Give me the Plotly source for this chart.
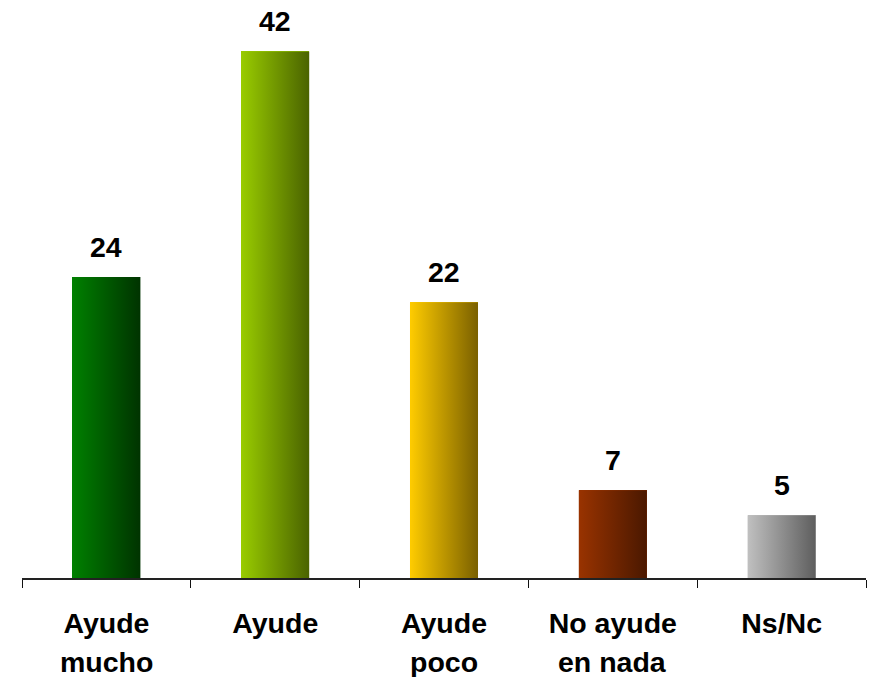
import plotly.graph_objects as go

# Survey answers and their shares (%)
label_lines = [["Ayude", "mucho"], ["Ayude"], ["Ayude", "poco"], ["No ayude", "en nada"], ["Ns/Nc"]]
values = [24, 42, 22, 7, 5]

# Horizontal gradient for each bar: left colour -> right colour
grad_left = ["#008000", "#99CC00", "#FFCC00", "#993300", "#C0C0C0"]
grad_right = ["#003300", "#4A6300", "#7A6000", "#4A1800", "#5E5E5E"]

categories = [" ".join(l) for l in label_lines]
first_lines = [l[0] for l in label_lines]
bar_w = 0.403
FONT = "Liberation Sans, Arial, sans-serif"
FSIZE = 28.5

fig = go.Figure()

# Base bars on the category axis
fig.add_trace(go.Bar(
    x=categories, y=values, width=bar_w,
    marker=dict(color=grad_left, line=dict(width=0)),
    hoverinfo="skip", showlegend=False,
))

# Gradient faces drawn over each bar on a hidden, aligned linear axis
for i, (v, c0, c1) in enumerate(zip(values, grad_left, grad_right)):
    x0, x1 = i - bar_w / 2, i + bar_w / 2
    fig.add_trace(go.Scatter(
        x=[x0, x1, x1, x0, x0], y=[0, 0, v, v, 0],
        xaxis="x2", yaxis="y", mode="lines",
        line=dict(width=0), fill="toself",
        fillgradient=dict(type="horizontal", colorscale=[[0, c0], [1, c1]]),
        hoverinfo="skip", showlegend=False,
    ))

annotations = []
# Value labels above the bars
for c, v in zip(categories, values):
    annotations.append(dict(
        x=c, y=v, xref="x", yref="y", text=str(v), showarrow=False,
        yanchor="middle", yshift=30,
        font=dict(family=FONT, size=FSIZE, color="#000000", weight="bold"),
    ))
# Second line of the category labels
for c, l in zip(categories, label_lines):
    if len(l) > 1:
        annotations.append(dict(
            x=c, y=0, xref="x", yref="paper", text=l[1], showarrow=False,
            yanchor="middle", yshift=-84,
            font=dict(family=FONT, size=FSIZE, color="#000000", weight="bold"),
        ))

fig.update_layout(
    width=877, height=677,
    margin=dict(l=22, r=11, t=0, b=99),
    paper_bgcolor="white", plot_bgcolor="white",
    bargap=0, showlegend=False,
    xaxis=dict(
        type="category", range=[-0.5, 4.5],
        tickmode="array", tickvals=categories, ticktext=first_lines,
        tickson="boundaries", ticks="outside", ticklen=8, tickwidth=1.3, tickcolor="#111111",
        showline=True, linecolor="#222222", linewidth=2,
        showgrid=False, zeroline=False,
        tickfont=dict(family=FONT, size=FSIZE, color="#000000", weight="bold"),
        ticklabelstandoff=19,
    ),
    xaxis2=dict(overlaying="x", range=[-0.5, 4.5], visible=False, showgrid=False, zeroline=False),
    yaxis=dict(range=[0, 46.1], visible=False, showgrid=False, zeroline=False),
    annotations=annotations,
)

fig.write_html("out.html")
